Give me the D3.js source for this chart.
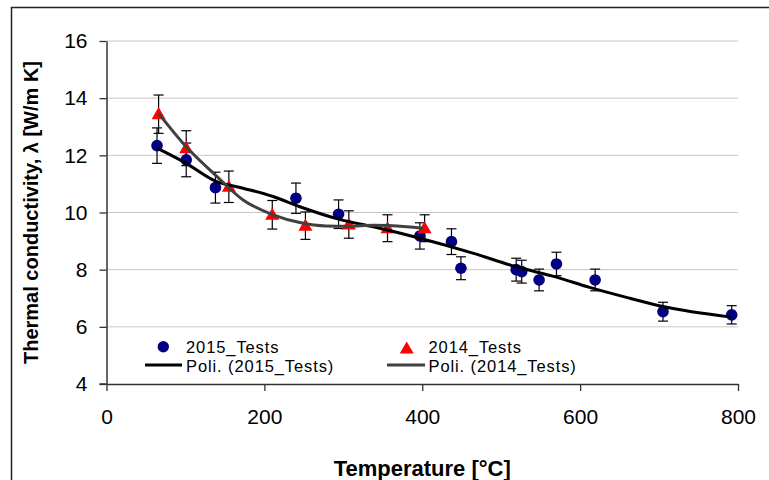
<!DOCTYPE html>
<html>
<head>
<meta charset="utf-8">
<script src="https://cdn.jsdelivr.net/npm/d3@7"></script>
<style>
  html, body { margin: 0; padding: 0; background: #fff; }
  svg { display: block; font-family: "Liberation Sans", Arial, sans-serif; }
</style>
</head>
<body>
<svg id="chart" width="769" height="480"></svg>
<script>
// ---- Data ----
const temp2015 = [64, 101, 138, 240, 294, 397, 437, 449, 519, 526, 548, 570, 619, 705, 792];
const lambda2015 = [12.34, 11.84, 10.87, 10.50, 9.94, 9.18, 8.98, 8.05, 8.00, 7.93, 7.64, 8.20, 7.64, 6.53, 6.42];
const err2015 = [0.62, 0.59, 0.54, 0.53, 0.50, 0.46, 0.45, 0.40, 0.40, 0.40, 0.38, 0.41, 0.38, 0.33, 0.32];

const temp2014 = [66, 101, 155, 210, 252, 307, 356, 403];
const lambda2014 = [13.44, 12.25, 10.90, 9.92, 9.54, 9.58, 9.45, 9.45];
const err2014 = [0.67, 0.61, 0.55, 0.50, 0.48, 0.48, 0.47, 0.47];

// Polynomial trend lines
const trend2015X = [64, 101, 138, 173, 211, 245, 295, 338, 397, 464, 519, 570, 612, 663, 705, 792];
const trend2015Y = [12.25, 11.72, 11.10, 10.85, 10.56, 10.20, 9.76, 9.50, 9.10, 8.58, 8.10, 7.74, 7.38, 7.00, 6.71, 6.34];
const trend2014X = [66, 101, 138, 173, 211, 245, 278, 306, 338, 380, 401];
const trend2014Y = [13.47, 12.30, 11.31, 10.44, 9.92, 9.65, 9.53, 9.52, 9.55, 9.50, 9.45];

const xTicks = [0, 200, 400, 600, 800];
const yTicks = [4, 6, 8, 10, 12, 14, 16];

const xTitle = "Temperature [°C]";
const yTitle = "Thermal conductivity, λ [W/m K]";
const legendLabels = ["2015_Tests", "2014_Tests", "Poli. (2015_Tests)", "Poli. (2014_Tests)"];

// ---- Drawing ----
const svg = d3.select("#chart");
const x = d3.scaleLinear().domain([0, 800]).range([106.5, 738]);
const y = d3.scaleLinear().domain([4, 16]).range([384, 41]);

// outer frame (chart area border, extends past right/bottom of picture)
svg.append("path")
  .attr("d", "M11.5,480 L11.5,7.5 L769,7.5")
  .attr("fill", "none").attr("stroke", "#222").attr("stroke-width", 1.5);

// gridlines
svg.append("g").selectAll("line")
  .data(yTicks.filter(t => t > 4))
  .join("line")
  .attr("x1", x(0)).attr("x2", x(800))
  .attr("y1", d => y(d)).attr("y2", d => y(d))
  .attr("stroke", "#c6c6c6").attr("stroke-width", 1);

// axes
const yAxis = svg.append("g")
  .attr("transform", `translate(${x(0)},0)`)
  .call(d3.axisLeft(y).tickValues(yTicks).tickSize(7).tickPadding(12).tickSizeOuter(0));
const xAxis = svg.append("g")
  .attr("transform", `translate(0,${y(4)})`)
  .call(d3.axisBottom(x).tickValues(xTicks).tickSize(7).tickPadding(18).tickSizeOuter(0));
[yAxis, xAxis].forEach(g => {
  g.select(".domain").attr("stroke", "#333").attr("stroke-width", 1.5);
  g.selectAll(".tick line").attr("stroke", "#333").attr("stroke-width", 1.3);
  g.selectAll(".tick text").attr("fill", "#000")
    .style("font-size", "21px").style("font-family", "'Liberation Sans', Arial, sans-serif");
});
// extend x-axis line slightly left to meet the y tick (cross at origin)
svg.append("line").attr("x1", x(0) - 7).attr("x2", x(0))
  .attr("y1", y(4)).attr("y2", y(4)).attr("stroke", "#333").attr("stroke-width", 1.5);

// axis titles
svg.append("text")
  .attr("x", (x(0) + x(800)) / 2).attr("y", 476)
  .attr("text-anchor", "middle")
  .style("font-size", "22px").style("font-weight", "bold")
  .text(xTitle);
svg.append("text")
  .attr("transform", `translate(38,${(y(4) + y(16)) / 2}) rotate(-90)`)
  .attr("text-anchor", "middle")
  .style("font-size", "20px").style("font-weight", "bold")
  .text(yTitle);

const d2015 = temp2015.map((t, i) => ({ t, v: lambda2015[i], e: err2015[i] }));
const d2014 = temp2014.map((t, i) => ({ t, v: lambda2014[i], e: err2014[i] }));

function errorBars(data) {
  const g = svg.append("g").attr("stroke", "#000").attr("stroke-width", 1.2);
  g.selectAll("line.v").data(data).join("line")
    .attr("x1", d => x(d.t)).attr("x2", d => x(d.t))
    .attr("y1", d => y(d.v + d.e)).attr("y2", d => y(d.v - d.e));
  g.selectAll("line.top").data(data).join("line")
    .attr("x1", d => x(d.t) - 5).attr("x2", d => x(d.t) + 5)
    .attr("y1", d => y(d.v + d.e)).attr("y2", d => y(d.v + d.e));
  g.selectAll("line.bot").data(data).join("line")
    .attr("x1", d => x(d.t) - 5).attr("x2", d => x(d.t) + 5)
    .attr("y1", d => y(d.v - d.e)).attr("y2", d => y(d.v - d.e));
}
errorBars(d2015);
errorBars(d2014);

// markers
const triSym = d3.symbol().type(d3.symbolTriangle).size(85);
svg.append("g").selectAll("circle").data(d2015).join("circle")
  .attr("cx", d => x(d.t)).attr("cy", d => y(d.v)).attr("r", 5.8)
  .attr("fill", "#000080");
svg.append("g").selectAll("path").data(d2014).join("path")
  .attr("d", triSym)
  .attr("transform", d => `translate(${x(d.t)},${y(d.v) + 1})`)
  .attr("fill", "#ff0000");

// trend lines
const line = d3.line().x(d => x(d[0])).y(d => y(d[1])).curve(d3.curveMonotoneX);
svg.append("path")
  .datum(trend2015X.map((t, i) => [t, trend2015Y[i]]))
  .attr("d", line).attr("fill", "none").attr("stroke", "#000").attr("stroke-width", 3);
svg.append("path")
  .datum(trend2014X.map((t, i) => [t, trend2014Y[i]]))
  .attr("d", line).attr("fill", "none").attr("stroke", "#404040").attr("stroke-width", 3);

// legend
const lg = svg.append("g").style("font-size", "16.5px").style("letter-spacing", "0.9px");
lg.append("circle").attr("cx", 163.3).attr("cy", 346.7).attr("r", 5.7).attr("fill", "#000080");
lg.append("text").attr("x", 186).attr("y", 353).text(legendLabels[0]);
lg.append("path").attr("d", triSym).attr("transform", "translate(406.7,349.5)").attr("fill", "#ff0000");
lg.append("text").attr("x", 428.5).attr("y", 353).text(legendLabels[1]);
lg.append("line").attr("x1", 145).attr("x2", 182).attr("y1", 365).attr("y2", 365)
  .attr("stroke", "#000").attr("stroke-width", 3);
lg.append("text").attr("x", 186).attr("y", 371.5).text(legendLabels[2]);
lg.append("line").attr("x1", 387).attr("x2", 425).attr("y1", 365).attr("y2", 365)
  .attr("stroke", "#404040").attr("stroke-width", 3);
lg.append("text").attr("x", 428.5).attr("y", 371.5).text(legendLabels[3]);
</script>
</body>
</html>
